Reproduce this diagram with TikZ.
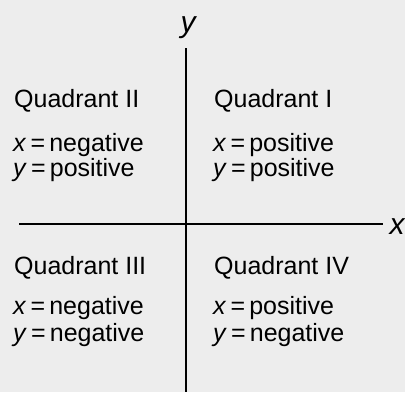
\documentclass[tikz,border=0pt]{standalone}
\usepackage{fontspec}
\setmainfont{Liberation Sans}
\begin{document}
\begin{tikzpicture}[x=1pt,y=-1pt,
  lbl/.style={anchor=base west,inner sep=0pt,font=\fontsize{25}{30}\selectfont},
  axislbl/.style={inner sep=0pt,font=\fontsize{30}{34}\selectfont\itshape},
  axis/.style={line width=2.2pt,black}]
\useasboundingbox[fill=black!7] (0,0) rectangle (405,392);
% axes
\coordinate (ytop) at (186,48);
\coordinate (ybot) at (186,392);
\coordinate (xleft) at (19,224);
\coordinate (xright) at (383,224);
\draw[axis] (ytop) -- (ybot);
\draw[axis] (xleft) -- (xright);
\node[axislbl] (ylab) at (188,28) {y};
\node[axislbl] (xlab) at (397,227) {x};
% Quadrant II
\node[lbl] (q2) at (14,107) {Quadrant II};
\node[lbl] (q2x) at (13,151) {\textit{x}\,=\,negative};
\node[lbl] (q2y) at (13,176) {\textit{y}\,=\,positive};
% Quadrant I
\node[lbl] (q1) at (214,107) {Quadrant I};
\node[lbl] (q1x) at (213,151) {\textit{x}\,=\,positive};
\node[lbl] (q1y) at (213,176) {\textit{y}\,=\,positive};
% Quadrant III
\node[lbl] (q3) at (14,274) {Quadrant III};
\node[lbl] (q3x) at (13,314) {\textit{x}\,=\,negative};
\node[lbl] (q3y) at (13,341) {\textit{y}\,=\,negative};
% Quadrant IV
\node[lbl] (q4) at (214,274) {Quadrant IV};
\node[lbl] (q4x) at (213,314) {\textit{x}\,=\,positive};
\node[lbl] (q4y) at (213,341) {\textit{y}\,=\,negative};
\end{tikzpicture}
\end{document}
